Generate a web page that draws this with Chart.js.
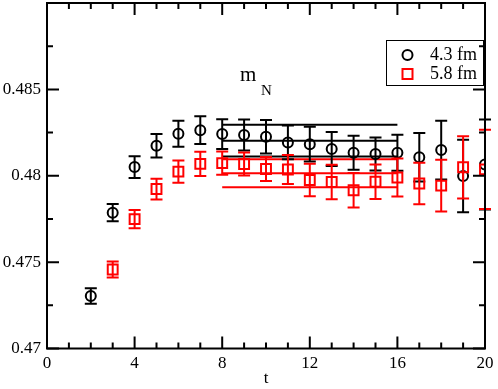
<!DOCTYPE html>
<meta charset="UTF-8">
<title>Nucleon mass plateau</title>
<script src="https://cdn.jsdelivr.net/npm/chart.js"></script>

<style>
    body { margin: 0; background: #fff; }
    #massChartContainer { width: 498px; height: 389px; }
</style>

<div id="massChartContainer">
    <canvas id="massChart" width="498" height="389"></canvas>
</div>

<script>
    // time slices
    const t43 = [2, 3, 4, 5, 6, 7, 8, 9, 10, 11, 12, 13, 14, 15, 16, 17, 18, 19, 20];
    const t58 = [3, 4, 5, 6, 7, 8, 9, 10, 11, 12, 13, 14, 15, 16, 17, 18, 19, 20];

    // 4.3 fm box
    const mass43 = [0.47304, 0.47786, 0.48050, 0.48173, 0.48243, 0.48264, 0.48241, 0.48236, 0.48226, 0.48193,
                    0.48183, 0.48155, 0.48133, 0.48126, 0.48133, 0.48107, 0.48149, 0.47998, 0.48065];
    const err43 = [0.00045, 0.0005, 0.00063, 0.00068, 0.00075, 0.0008, 0.00086, 0.0009, 0.00097, 0.00098,
                   0.001, 0.00098, 0.00098, 0.00095, 0.00104, 0.0014, 0.0017, 0.0021, 0.0026];

    // 5.8 fm box
    const mass58 = [0.47457, 0.47749, 0.47923, 0.48024, 0.48069, 0.48073, 0.48068, 0.48039, 0.48036, 0.47975,
                    0.47964, 0.47916, 0.47965, 0.4799, 0.47955, 0.47943, 0.48049, 0.48037];
    const err58 = [0.00046, 0.00053, 0.0006, 0.00064, 0.0007, 0.00067, 0.00067, 0.0007, 0.00084, 0.00094,
                   0.001, 0.001, 0.001, 0.0011, 0.0012, 0.0015, 0.0018, 0.0023];

    // plateau fits (range, central value, error)
    const fitRange = [8, 16];
    const fit43 = 0.48203, fitErr43 = 0.00092;
    const fit58 = 0.48014, fitErr58 = 0.00081;

    const xTicks = [0, 4, 8, 12, 16, 20];
    const yTicks = [0.47, 0.475, 0.48, 0.485];

    const serif = '"Liberation Serif", "DejaVu Serif", serif';

    const toPoints = (xs, ys) => xs.map((x, i) => ({ x: x, y: ys[i] }));
    const fitLine = v => fitRange.map(x => ({ x: x, y: v }));

    function lineSet(data, color) {
        return {
            type: 'line', data: data, borderColor: color, borderWidth: 2,
            pointRadius: 0, fill: false, showLine: true, order: 3
        };
    }

    // pin the top of the plot area (Chart.js keeps some label padding up there)
    const pinTop = {
        id: 'pinTop',
        afterLayout(chart) {
            const a = chart.chartArea, y = chart.scales.y;
            a.top = 3;
            a.height = a.bottom - a.top;
            y.top = 3;
            y.height = y.bottom - y.top;
            y.configure();
        }
    };

    // error bars, drawn after each dataset that has errors
    const errorBars = {
        id: 'errorBars',
        afterDatasetDraw(chart, args) {
            const ds = chart.data.datasets[args.index];
            if (!ds.errors) return;
            const ctx = chart.ctx, xs = chart.scales.x, ys = chart.scales.y;
            ctx.save();
            ctx.strokeStyle = ds.borderColor;
            ctx.lineWidth = 2;
            ds.data.forEach((p, i) => {
                const px = xs.getPixelForValue(p.x);
                const top = ys.getPixelForValue(p.y + ds.errors[i]);
                const bot = ys.getPixelForValue(p.y - ds.errors[i]);
                ctx.beginPath();
                ctx.moveTo(px, top); ctx.lineTo(px, bot);
                ctx.moveTo(px - 6, top); ctx.lineTo(px + 6, top);
                ctx.moveTo(px - 6, bot); ctx.lineTo(px + 6, bot);
                ctx.stroke();
            });
            ctx.restore();
        }
    };

    // frame with inward ticks on all four sides, legend and label
    const frame = {
        id: 'frame',
        afterDraw(chart) {
            const ctx = chart.ctx, a = chart.chartArea;
            const xs = chart.scales.x, ys = chart.scales.y;
            ctx.save();
            ctx.strokeStyle = '#000';
            ctx.lineWidth = 2;
            ctx.strokeRect(a.left, a.top, a.right - a.left, a.bottom - a.top);
            ctx.beginPath();
            for (let i = 0; i <= 20; i++) {
                const px = xs.getPixelForValue(i);
                const len = i % 4 === 0 ? 12 : 6;
                ctx.moveTo(px, a.bottom); ctx.lineTo(px, a.bottom - len);
                ctx.moveTo(px, a.top); ctx.lineTo(px, a.top + len);
            }
            for (let i = 0; i <= 8; i++) {
                const py = ys.getPixelForValue(0.47 + i * 0.0025);
                const len = i % 2 === 0 ? 12 : 6;
                ctx.moveTo(a.left, py); ctx.lineTo(a.left + len, py);
                ctx.moveTo(a.right, py); ctx.lineTo(a.right - len, py);
            }
            ctx.stroke();

            // legend
            ctx.lineWidth = 1;
            ctx.strokeRect(386.5, 40.5, 97, 45);
            ctx.lineWidth = 2;
            ctx.beginPath();
            ctx.arc(407.5, 55, 5, 0, Math.PI * 2);
            ctx.stroke();
            ctx.strokeStyle = '#ff0000';
            ctx.strokeRect(402.5, 69, 10, 10);
            ctx.fillStyle = '#000';
            ctx.font = '18px ' + serif;
            ctx.textBaseline = 'middle';
            ctx.fillText('4.3 fm', 430, 55);
            ctx.fillText('5.8 fm', 430, 74);

            // m_N label
            ctx.textBaseline = 'alphabetic';
            ctx.font = '21px ' + serif;
            ctx.fillText('m', 240, 81);
            ctx.font = '15px ' + serif;
            ctx.fillText('N', 261, 95);
            ctx.restore();
        }
    };

    const ctx = document.getElementById('massChart').getContext('2d');
    const massChart = new Chart(ctx, {
        type: 'scatter',
        data: {
            datasets: [
                {
                    label: '4.3 fm',
                    data: toPoints(t43, mass43),
                    errors: err43,
                    borderColor: '#000000',
                    backgroundColor: 'rgba(0,0,0,0)',
                    pointStyle: 'circle',
                    pointRadius: 5,
                    borderWidth: 2,
                    order: 2
                },
                {
                    label: '5.8 fm',
                    data: toPoints(t58, mass58),
                    errors: err58,
                    borderColor: '#ff0000',
                    backgroundColor: 'rgba(0,0,0,0)',
                    pointStyle: 'rect',
                    pointRadius: 7,
                    borderWidth: 2,
                    order: 1
                },
                lineSet(fitLine(fit43 + fitErr43), '#000000'),
                lineSet(fitLine(fit43), '#000000'),
                lineSet(fitLine(fit43 - fitErr43), '#000000'),
                lineSet(fitLine(fit58 + fitErr58), '#ff0000'),
                lineSet(fitLine(fit58), '#ff0000'),
                lineSet(fitLine(fit58 - fitErr58), '#ff0000')
            ]
        },
        options: {
            responsive: false,
            animation: false,
            events: [],
            layout: { padding: { top: 3, right: 13, left: 0, bottom: 0 } },
            plugins: {
                legend: { display: false },
                tooltip: { enabled: false }
            },
            scales: {
                x: {
                    type: 'linear',
                    min: 0, max: 20,
                    afterBuildTicks: s => { s.ticks = xTicks.map(v => ({ value: v })); },
                    afterFit: s => { s.height = 40.5; s.paddingLeft = 0; s.paddingRight = 0; },
                    grid: { display: false, drawTicks: false },
                    border: { display: false },
                    ticks: {
                        color: '#000', padding: 5, maxRotation: 0,
                        font: { family: serif, size: 17 }
                    },
                    title: {
                        display: true, text: 't', color: '#000', padding: 0,
                        font: { family: serif, size: 17 }
                    }
                },
                y: {
                    type: 'linear',
                    min: 0.47, max: 0.49,
                    afterBuildTicks: s => { s.ticks = yTicks.map(v => ({ value: v })); },
                    afterFit: s => { s.width = 47; s.paddingTop = 0; s.paddingBottom = 0; },
                    grid: { display: false, drawTicks: false },
                    border: { display: false },
                    ticks: {
                        color: '#000', padding: 6,
                        font: { family: serif, size: 17 },
                        callback: v => String(+v.toFixed(4))
                    }
                }
            }
        },
        plugins: [pinTop, errorBars, frame]
    });
</script>
